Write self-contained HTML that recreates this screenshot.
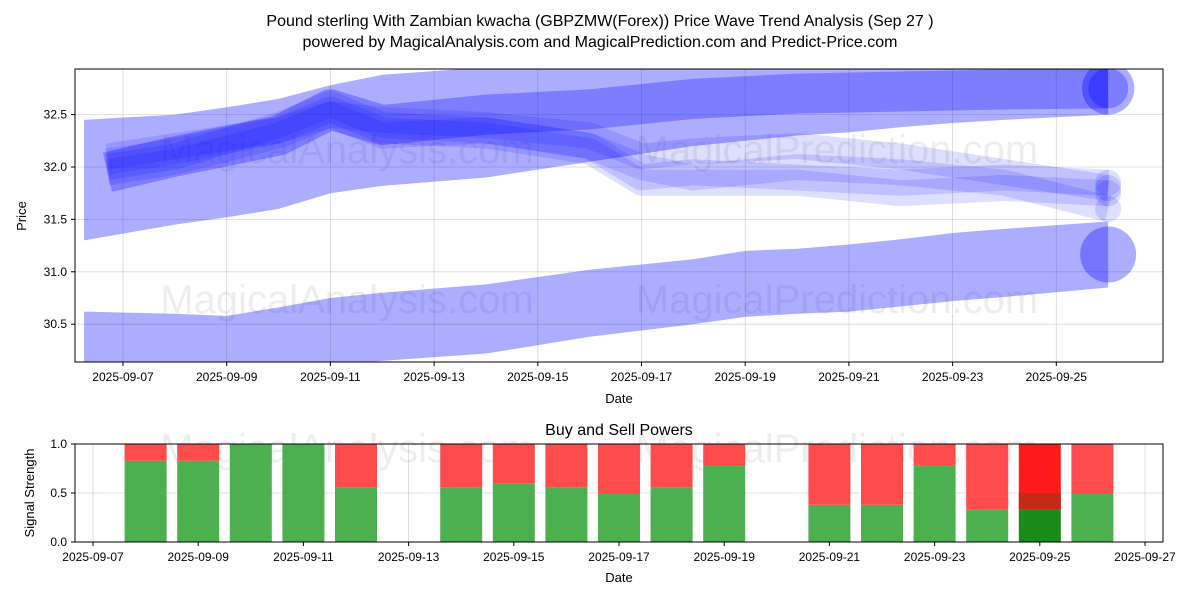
<!DOCTYPE html>
<html><head><meta charset="utf-8">
<style>
body{margin:0;background:#fff;}
svg{display:block;font-family:"Liberation Sans","DejaVu Sans",sans-serif;}
</style></head>
<body>
<svg id="chart" width="1200" height="600" viewBox="0 0 1200 600">
<text x="600" y="26" font-size="16" text-anchor="middle">Pound sterling With Zambian kwacha (GBPZMW(Forex)) Price Wave Trend Analysis (Sep 27 )</text>
<text x="600" y="47" font-size="16" text-anchor="middle">powered by MagicalAnalysis.com and MagicalPrediction.com and Predict-Price.com</text>
<defs><clipPath id="c1"><rect x="75" y="69" width="1088" height="293"/></clipPath></defs>
<g id="topPanel"></g>
<g id="botPanel"></g>
</svg>
<script>
// ---- price panel data ----
const bandDays = [6.25, 8, 9, 10, 11, 12, 14, 16, 18, 19, 20, 21, 22, 23, 24, 26];
const bandAUpper = [32.45,32.5,32.57,32.65,32.78,32.88,32.95,33.0,33.0,33.0,33.0,33.0,33.0,33.0,33.0,33.0];
const bandALower = [31.3,31.45,31.52,31.6,31.75,31.82,31.9,32.05,32.2,32.25,32.3,32.33,32.38,32.42,32.45,32.5];
const bandBUpper = [30.62,30.6,30.58,30.66,30.75,30.8,30.88,31.02,31.12,31.2,31.22,31.26,31.31,31.37,31.41,31.48];
const bandBLower = [29.9,29.95,30.0,30.05,30.1,30.15,30.22,30.38,30.5,30.57,30.6,30.62,30.67,30.72,30.76,30.85];
const lineDays = [6.7, 8, 10, 11, 12, 14, 16, 17, 18, 20, 22, 24, 26];
const line1 = [32.0,32.1,32.4,32.6,32.4,32.35,32.2,31.9,31.95,31.9,31.85,31.9,31.85];
const line2 = [32.05,32.15,32.35,32.55,32.35,32.3,32.15,31.85,31.85,31.85,31.75,31.8,31.75];
const line3 = [31.95,32.05,32.3,32.5,32.3,32.35,32.2,32.0,31.9,32.0,31.95,31.85,31.6];
const line4 = [31.95,32.1,32.3,32.55,32.4,32.5,32.55,32.6,32.65,32.7,32.72,32.74,32.75];
const line5 = [32.1,32.2,32.35,32.5,32.45,32.4,32.3,32.1,32.15,32.2,32.1,31.95,31.8];
const yTicks = [30.5, 31.0, 31.5, 32.0, 32.5];
const xTickDays = [7,9,11,13,15,17,19,21,23,25];
// ---- signal panel data ----
const sigDays = [8,9,10,11,12,14,15,16,17,18,19,21,22,23,24,25,26];
const buyPower = [0.83,0.83,1.0,1.0,0.56,0.56,0.6,0.56,0.5,0.56,0.78,0.38,0.38,0.78,0.33,0.33,0.5];
const sigTicks = [0, 0.5, 1.0];
const sigXTicks = [7,9,11,13,15,17,19,21,23,25,27];

const NS = "http://www.w3.org/2000/svg";
function mk(parent, tag, attrs){const e=document.createElementNS(NS,tag);for(const k in attrs)e.setAttribute(k,attrs[k]);parent.appendChild(e);return e;}
const fmtDate = d => "2025-09-" + String(d).padStart(2,"0");

const X = d => 123 + (d-7)*51.85;
const Y = v => 167 - (v-32.0)*104.8;
const topG = document.getElementById('topPanel');
for (const t of xTickDays){
  const g = mk(topG,'line',{x1:X(t),x2:X(t),y1:69,y2:362,stroke:'#b0b0b0','stroke-width':0.8,'stroke-opacity':0.5});
  
  
  const tk = mk(topG,'line',{x1:X(t),x2:X(t),y1:362,y2:366,stroke:'#000'});
  
  
  const tx = mk(topG,'text',{x:X(t),y:381,'font-size':12,'text-anchor':'middle'});
  tx.textContent = fmtDate(t);
  
  
}
for (const v of yTicks){
  const g = mk(topG,'line',{x1:75,x2:1163,y1:Y(v),y2:Y(v),stroke:'#b0b0b0','stroke-width':0.8,'stroke-opacity':0.5});
  
  
  const tk = mk(topG,'line',{x1:71,x2:75,y1:Y(v),y2:Y(v),stroke:'#000'});
  
  
  const tx = mk(topG,'text',{x:67,y:Y(v)+4,'font-size':12,'text-anchor':'end'});
  tx.textContent = v.toFixed(1);
  
  
}
const wmPos = [[347,163],[837,163],[347,313],[837,313]];
wmPos.forEach((p,i)=>{
  const w = mk(topG,'text',{x:p[0],y:p[1],'font-size':40,fill:'#000','fill-opacity':0.07,'text-anchor':'middle'});
  w.textContent = i%2===0 ? 'MagicalAnalysis.com' : 'MagicalPrediction.com';
  
  
});

const plot = mk(topG,'g',{'clip-path':'url(#c1)'});


function band(up, lo, name){
  let pts = bandDays.map((d,i)=>X(d)+','+Y(up[i]));
  pts = pts.concat(bandDays.map((d,i)=>X(d)+','+Y(lo[i])).reverse());
  const p = mk(plot,'polygon',{points:pts.join(' '),fill:'#0000ff','fill-opacity':0.32});
  
  
  const n = bandDays.length-1;
  const cy = (Y(up[n])+Y(lo[n]))/2, r = Math.abs(Y(lo[n])-Y(up[n]))/2;
  const c = mk(plot,'circle',{cx:X(bandDays[n]),cy:cy,r:Math.min(r,28),fill:'#0000ff','fill-opacity':0.32});
  
  
}
band(bandAUpper, bandALower, 'upper-wave-band');
band(bandBUpper, bandBLower, 'lower-wave-band');
const lines = [line1,line2,line3,line4,line5];
lines.forEach((ln,k)=>{
  const pts = lineDays.map((d,i)=>X(d)+','+Y(ln[i])).join(' ');
  const w = k===3 ? 40 : 26;
  const op = k===3 ? 0.28 : 0.13;
  const p = mk(plot,'polyline',{points:pts,fill:'none',stroke:'#0000ff','stroke-opacity':op,'stroke-width':w,'stroke-linejoin':'round','stroke-linecap':'butt'});
  
  
  const n = lineDays.length-1;
  const c = mk(plot,'circle',{cx:X(lineDays[n]),cy:Y(ln[n]),r:w/2,fill:'#0000ff','fill-opacity':op});
  
  
});
const fr = mk(topG,'rect',{x:75,y:69,width:1088,height:293,fill:'none',stroke:'#000','stroke-width':1});


const xl = mk(topG,'text',{x:619,y:403,'font-size':13,'text-anchor':'middle'});
xl.textContent='Date';


const yl = mk(topG,'text',{x:26,y:216,'font-size':13,'text-anchor':'middle',transform:'rotate(-90 26 216)'});
yl.textContent='Price';



// bottom panel
const botG = document.getElementById('botPanel');
const BX = d => 93 + (d-7)*52.6;
const BY = v => 542 - v*98;
const bt = mk(botG,'text',{x:619,y:435,'font-size':16,'text-anchor':'middle'});
bt.textContent='Buy and Sell Powers';


for (const v of sigTicks){
  const g = mk(botG,'line',{x1:75,x2:1163,y1:BY(v),y2:BY(v),stroke:'#b0b0b0','stroke-width':0.8,'stroke-opacity':0.5});
  
  
  const tk = mk(botG,'line',{x1:71,x2:75,y1:BY(v),y2:BY(v),stroke:'#000'});
  
  
  const tx = mk(botG,'text',{x:67,y:BY(v)+4,'font-size':12,'text-anchor':'end'});
  tx.textContent=v.toFixed(1);
  
  
}
for (const t of sigXTicks){
  const g = mk(botG,'line',{x1:BX(t),x2:BX(t),y1:444,y2:542,stroke:'#b0b0b0','stroke-width':0.8,'stroke-opacity':0.5});
  
  
  const tk = mk(botG,'line',{x1:BX(t),x2:BX(t),y1:542,y2:546,stroke:'#000'});
  
  
  const tx = mk(botG,'text',{x:BX(t),y:561,'font-size':12,'text-anchor':'middle'});
  tx.textContent=fmtDate(t);
  
  
}
[[347,462],[837,462]].forEach((p,i)=>{
  const w = mk(botG,'text',{x:p[0],y:p[1],'font-size':40,fill:'#000','fill-opacity':0.07,'text-anchor':'middle'});
  w.textContent = i===0 ? 'MagicalAnalysis.com' : 'MagicalPrediction.com';
  
  
});
sigDays.forEach((d,i)=>{
  const b = buyPower[i];
  const last = d===25;
  const g = mk(botG,'rect',{x:BX(d)-21,y:BY(b),width:42,height:BY(0)-BY(b),fill:last?'#1a8c1a':'#4caf50'});
  
  
  const r = mk(botG,'rect',{x:BX(d)-21,y:BY(1),width:42,height:BY(b)-BY(1),fill:last?'#ff1a1a':'#ff4b4b'});
  
  
  if (last){
    const m = mk(botG,'rect',{x:BX(d)-21,y:BY(0.5),width:42,height:BY(b)-BY(0.5),fill:'#c8281a'});
    
    
  }
});
const bf = mk(botG,'rect',{x:75,y:444,width:1088,height:98,fill:'none',stroke:'#000','stroke-width':1});


const bxl = mk(botG,'text',{x:619,y:582,'font-size':13,'text-anchor':'middle'});
bxl.textContent='Date';


const byl = mk(botG,'text',{x:34,y:493,'font-size':13,'text-anchor':'middle',transform:'rotate(-90 34 493)'});
byl.textContent='Signal Strength';


</script>
</body></html>
